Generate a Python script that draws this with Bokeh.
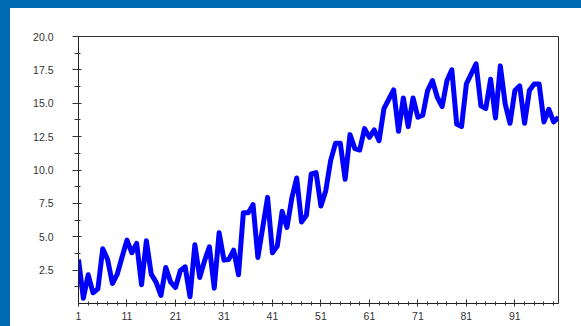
from bokeh.plotting import figure
from bokeh.models import FixedTicker, Range1d, PrintfTickFormatter, ColumnDataSource
from bokeh.embed import file_html
from bokeh.resources import INLINE

x_values = list(range(1, 101))
y_values = [
    3.3, 0.4, 2.15, 0.8, 1.1, 4.1, 3.3, 1.5, 2.2, 3.5,
    4.75, 3.8, 4.5, 1.4, 4.7, 2.2, 1.6, 0.6, 2.7, 1.6,
    1.2, 2.45, 2.75, 0.5, 4.4, 1.95, 3.2, 4.25, 1.15, 5.3,
    3.25, 3.3, 4.0, 2.15, 6.8, 6.8, 7.4, 3.45, 5.7, 7.95,
    3.8, 4.3, 6.9, 5.7, 7.9, 9.4, 6.1, 6.6, 9.7, 9.8,
    7.3, 8.45, 10.7, 12.0, 12.0, 9.3, 12.65, 11.6, 11.5, 13.1,
    12.45, 13.0, 12.2, 14.6, 15.3, 16.0, 12.9, 15.4, 13.25, 15.4,
    13.95, 14.1, 15.95, 16.7, 15.45, 14.75, 16.7, 17.5, 13.45, 13.25,
    16.45, 17.2, 17.95, 14.8, 14.6, 16.8, 13.9, 17.8, 14.95, 13.5,
    15.95, 16.3, 13.5, 15.95, 16.45, 16.45, 13.6, 14.55, 13.6, 13.95,
]
y_ticks = [2.5, 5.0, 7.5, 10.0, 12.5, 15.0, 17.5, 20.0]
y_minor_ticks = [1.25, 3.75, 6.25, 8.75, 11.25, 13.75, 16.25, 18.75]
x_ticks = [1, 11, 21, 31, 41, 51, 61, 71, 81, 91]
x_minor_ticks = list(range(3, 100, 2))

source = ColumnDataSource(data=dict(x=x_values, y=y_values))

p = figure(
    frame_width=480, frame_height=267,
    min_border_left=68, min_border_right=23, min_border_top=28, min_border_bottom=21,
    x_range=Range1d(1, 100), y_range=Range1d(0, 20),
    output_backend="svg", toolbar_location=None,
)
p.background_fill_color = "white"
p.border_fill_color = "white"
p.outline_line_color = "#333333"
p.outline_line_width = 1
p.xgrid.visible = False
p.ygrid.visible = False

p.line("x", "y", source=source, line_color="#0000ff", line_width=5, line_join="round")

font = "Liberation Sans"
p.yaxis.ticker = FixedTicker(ticks=y_ticks, minor_ticks=y_minor_ticks)
p.yaxis.formatter = PrintfTickFormatter(format="%.1f")
p.yaxis.major_tick_out = 6
p.yaxis.major_tick_in = 3
p.yaxis.minor_tick_out = 4
p.yaxis.minor_tick_in = 2
p.yaxis.major_label_standoff = 19

p.xaxis.ticker = FixedTicker(ticks=x_ticks, minor_ticks=x_minor_ticks)
p.xaxis.major_tick_out = 3
p.xaxis.major_tick_in = 4
p.xaxis.minor_tick_out = 2
p.xaxis.minor_tick_in = 2
p.xaxis.major_label_standoff = 5

for ax in (p.xaxis, p.yaxis):
    ax.axis_line_color = "#222222"
    ax.major_tick_line_color = "#333333"
    ax.minor_tick_line_color = "#333333"
    ax.major_label_text_font = font
    ax.major_label_text_font_size = "10.5px"
    ax.major_label_text_color = "#333333"

html = file_html(p, INLINE)
style = ("<style>html,body{background:#ffffff!important;overflow:hidden!important;}"
         "html{margin:0!important;padding:0!important;}"
         "body{margin:8px 0 0 10px!important;padding:0!important;}</style>")
html = html.replace("</head>", style + "</head>", 1)
strips = ('<div style="position:fixed;left:0;top:0;width:100%;height:8px;background:#0069b4;"></div>'
          '<div style="position:fixed;left:0;top:0;width:10px;height:100%;background:#0069b4;"></div>')
html = html.replace("</body>", strips + "</body>", 1)
open("out.html", "w").write(html)
